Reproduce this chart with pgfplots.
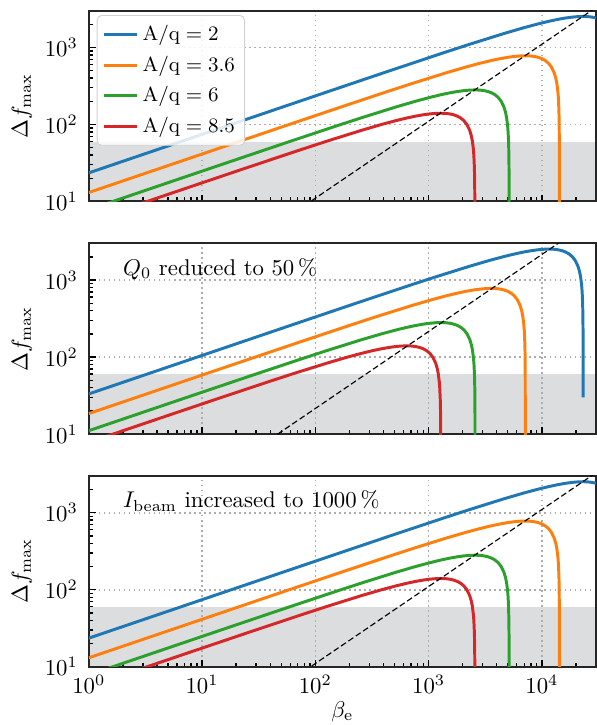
\documentclass[border=0pt]{standalone}
\usepackage{pgfplots}
\usepackage{pgfplotstable}
\pgfplotsset{compat=1.18}
\definecolor{c1}{HTML}{1F77B4}
\definecolor{c2}{HTML}{FF7F0E}
\definecolor{c3}{HTML}{2CA02C}
\definecolor{c4}{HTML}{D62728}
\definecolor{band}{RGB}{220,221,223}

% top / bottom panels
\pgfplotstableread{
x y
1 23.5
46.25 159.7
138.75 276.4
462.5 502.9
1387.5 862.1
2312.5 1101.5
4625 1516.2
6937.5 1804.6
9250 2021.6
11562.5 2188.5
13875 2316.0
16187.5 2410.6
18500 2476.0
20812.5 2514.3
23125 2527
25437.5 2514.3
27750 2476.0
30062.5 2410.6
32375 2316.0
}\blueA
\pgfplotstableread{
x y
1 13.06
14.275 49.30
42.825 85.32
142.75 155.2
428.25 266.1
713.75 340.0
1427.5 468.0
2141.25 557.0
2855 624.0
3568.75 675.5
4282.5 714.9
4996.25 744.1
5710 764.2
6423.75 776.1
7137.5 780
7851.25 776.1
8565 764.2
9278.75 744.1
9992.5 714.9
10706.25 675.5
11420 624.0
12133.75 557.0
12847.5 468.0
13275.75 398.0
13561.25 340.0
13846.75 266.1
13989.5 218.4
14132.25 155.2
14203.6 110.0
14246.45 69.7
14260.7 49.3
14267.9 34.9
14273.6 15.6
14274.86 4.93
}\orangeA
\pgfplotstableread{
x y
1 7.83
5.139 17.75
15.417 30.71
51.39 55.88
154.17 95.80
256.95 122.4
513.9 168.5
770.85 200.5
1027.8 224.6
1284.75 243.2
1541.7 257.4
1798.65 267.9
2055.6 275.1
2312.55 279.4
2569.5 280.8
2826.45 279.4
3083.4 275.1
3340.35 267.9
3597.3 257.4
3854.25 243.2
4111.2 224.6
4368.15 200.5
4625.1 168.5
4779.27 143.3
4882.05 122.4
4984.83 95.80
5036.22 78.62
5087.61 55.88
5113.3 39.61
5128.7 25.09
5133.9 17.75
5136.4 12.55
5138.5 5.62
}\greenA
\pgfplotstableread{
x y
1 5.53
7.683 15.30
25.61 27.84
76.83 47.73
128.05 60.98
256.1 83.94
384.15 99.91
512.2 111.9
640.25 121.2
768.3 128.2
896.35 133.5
1024.4 137.1
1152.45 139.2
1280.5 139.9
1408.55 139.2
1536.6 137.1
1664.65 133.5
1792.7 128.2
1920.75 121.2
2048.8 111.9
2176.85 99.91
2304.9 83.94
2381.73 71.39
2432.95 60.98
2484.17 47.73
2509.78 39.17
2535.39 27.84
2548.2 19.74
2555.9 12.50
2558.4 8.84
2559.7 6.25
}\redA
% middle panel
\pgfplotstableread{
x y
1 33.23
23.125 159.7
69.375 276.4
231.25 502.9
693.75 862.1
1156.25 1101.5
2312.5 1516.2
3468.75 1804.6
4625 2021.6
5781.25 2188.5
6937.5 2316.0
8093.75 2410.6
9250 2476.0
10406.25 2514.3
11562.5 2527
12718.75 2514.3
13875 2476.0
15031.25 2410.6
16187.5 2316.0
17343.75 2188.5
18500 2021.6
19656.25 1804.6
20812.5 1516.2
21506.25 1289.5
21968.75 1101.5
22431.25 862.1
22662.5 707.6
22893.75 502.9
23009.4 356.5
23078.75 225.8
23101.9 159.7
23113.4 113.0
23122.7 50.5
23124.2 30
}\blueB
\pgfplotstableread{
x y
1 18.47
7.1375 49.30
21.41 85.32
71.375 155.2
214.1 266.1
356.9 340.0
713.75 468.0
1070.6 557.0
1427.5 624.0
1784.4 675.5
2141.25 714.9
2498.1 744.1
2855 764.2
3211.9 776.1
3568.75 780
3925.6 776.1
4282.5 764.2
4639.4 744.1
4996.25 714.9
5353.1 675.5
5710 624.0
6066.9 557.0
6423.75 468.0
6637.9 398.0
6780.6 340.0
6923.4 266.1
6994.75 218.4
7066.1 155.2
7101.8 110.0
7123.2 69.7
7130.4 49.3
7133.9 34.9
7136.8 15.6
7137.4 4.93
}\orangeB
\pgfplotstableread{
x y
1 11.07
2.5695 17.75
7.7085 30.71
25.695 55.88
77.085 95.80
128.475 122.4
256.95 168.5
385.4 200.5
513.9 224.6
642.4 243.2
770.85 257.4
899.3 267.9
1027.8 275.1
1156.3 279.4
1284.75 280.8
1413.2 279.4
1541.7 275.1
1670.2 267.9
1798.65 257.4
1927.1 243.2
2055.6 224.6
2184.1 200.5
2312.55 168.5
2389.6 143.3
2441.0 122.4
2492.4 95.80
2518.1 78.62
2543.8 55.88
2556.7 39.61
2564.4 25.09
2566.9 17.75
2568.2 12.55
2569.2 5.62
}\greenB
\pgfplotstableread{
x y
1 7.82
3.84 15.30
12.805 27.84
38.415 47.73
64.025 60.98
128.05 83.94
192.1 99.91
256.1 111.9
320.1 121.2
384.15 128.2
448.2 133.5
512.2 137.1
576.2 139.2
640.25 139.9
704.3 139.2
768.3 137.1
832.3 133.5
896.35 128.2
960.4 121.2
1024.4 111.9
1088.4 99.91
1152.45 83.94
1190.9 71.39
1216.5 60.98
1242.1 47.73
1254.9 39.17
1267.7 27.84
1274.1 19.74
1277.9 12.50
1279.2 8.84
1279.9 6.25
}\redB

\pgfplotsset{
  every axis/.append style={
    scale only axis, width=222.8pt, height=83.8pt,
    xmin=1, xmax=3e4, ymin=10, ymax=3000,
    xtick={1,10,100,1000,10000},
    ytick={10,100,1000},
    minor xtick={2,3,4,5,6,7,8,9,20,30,40,50,60,70,80,90,200,300,400,500,600,700,800,900,2000,3000,4000,5000,6000,7000,8000,9000,20000},
    minor ytick={20,30,40,50,60,70,80,90,200,300,400,500,600,700,800,900,2000,3000},
    tick align=inside,
    xtick pos=left, ytick pos=left,
    major tick length=3pt, minor tick length=1.8pt,
    every tick/.style={black, line width=0.6pt},
    grid=major,
    major grid style={black!32, line width=0.7pt, dash pattern=on 0.7pt off 1.5pt},
    axis line style={black!85, line width=0.9pt},
    yticklabel style={xshift=-1.3pt},
    ylabel={$\Delta f_{\max}$},
    ylabel style={at={(axis description cs:-0.132,0.5)}, anchor=center, inner sep=0pt},
  },
}

\begin{document}
\begin{tikzpicture}
% ---------------- top panel ----------------
\begin{loglogaxis}[set layers, name=top, xticklabels={},
  legend style={at={(0.0155,0.977)}, anchor=north west,
    font=\fontsize{9.5}{11}\selectfont, draw=black!18, rounded corners=2pt, fill=white,
    fill opacity=0.85, text opacity=1, inner sep=2.2pt, row sep=1.2pt},
  legend cell align=left,
  legend image code/.code={\draw[mark repeat=2,mark phase=2,#1] plot coordinates {(0pt,0pt) (7.25pt,0pt) (14.5pt,0pt)};}]
\addplot[on layer=axis background, draw=none, fill=band, forget plot]
  coordinates {(1,10) (1,60) (30000,60) (30000,10)} -- cycle;
\addplot[line width=1.3pt, c1] table {\blueA};
\addlegendentry{$\mathrm{A/q} = 2$}
\addplot[line width=1.3pt, c2] table {\orangeA};
\addlegendentry{$\mathrm{A/q} = 3.6$}
\addplot[line width=1.3pt, c3] table {\greenA};
\addlegendentry{$\mathrm{A/q} = 6$}
\addplot[line width=1.3pt, c4] table {\redA};
\addlegendentry{$\mathrm{A/q} = 8.5$}
\addplot[black, line width=0.5pt, dash pattern=on 2.6pt off 1.3pt, forget plot] coordinates {(80,8.8) (30000,3300)};
\end{loglogaxis}
% ---------------- middle panel ----------------
\begin{loglogaxis}[set layers, at={(0,-102.2pt)}, xticklabels={}]
\addplot[on layer=axis background, draw=none, fill=band, forget plot]
  coordinates {(1,10) (1,60) (30000,60) (30000,10)} -- cycle;
\addplot[line width=1.3pt, c1] table {\blueB};
\addplot[line width=1.3pt, c2] table {\orangeB};
\addplot[line width=1.3pt, c3] table {\greenB};
\addplot[line width=1.3pt, c4] table {\redB};
\addplot[black, line width=0.5pt, dash pattern=on 2.6pt off 1.3pt, forget plot] coordinates {(40,8.6) (15000,3225)};
\node[anchor=west, inner sep=0pt] at (axis description cs:0.067,0.865) {$Q_0$ reduced to 50\,\%};
\end{loglogaxis}
% ---------------- bottom panel ----------------
\begin{loglogaxis}[set layers, name=bot, at={(0,-204.4pt)}, xlabel={$\beta_{\mathrm{e}}$},
  xlabel style={at={(axis description cs:0.5,-0.236)}, anchor=center, inner sep=0pt}]
\addplot[on layer=axis background, draw=none, fill=band, forget plot]
  coordinates {(1,10) (1,60) (30000,60) (30000,10)} -- cycle;
\addplot[line width=1.3pt, c1] table {\blueA};
\addplot[line width=1.3pt, c2] table {\orangeA};
\addplot[line width=1.3pt, c3] table {\greenA};
\addplot[line width=1.3pt, c4] table {\redA};
\addplot[black, line width=0.5pt, dash pattern=on 2.6pt off 1.3pt, forget plot] coordinates {(80,8.8) (30000,3300)};
\node[anchor=west, inner sep=0pt] at (axis description cs:0.067,0.868) {$I_{\mathrm{beam}}$ increased to 1000\,\%};
\end{loglogaxis}
\path ([xshift=-39pt,yshift=4.7pt]top.north west) ([yshift=-25.6pt]bot.south east);
\end{tikzpicture}
\end{document}
